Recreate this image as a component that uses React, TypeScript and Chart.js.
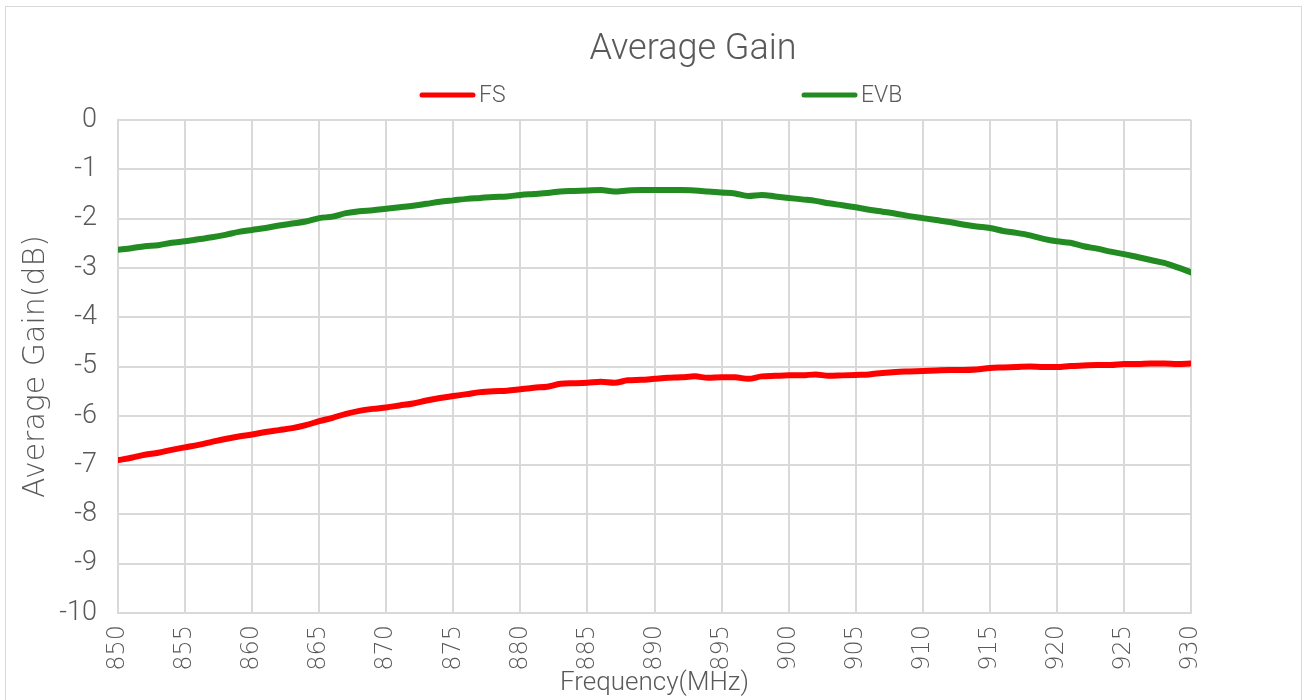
import React, { useEffect, useRef } from "react";
import { Chart, registerables } from "chart.js";

Chart.register(...registerables);

const FREQ_MHZ = [
  850, 851, 852, 853, 854, 855, 856, 857, 858, 859,
  860, 861, 862, 863, 864, 865, 866, 867, 868, 869,
  870, 871, 872, 873, 874, 875, 876, 877, 878, 879,
  880, 881, 882, 883, 884, 885, 886, 887, 888, 889,
  890, 891, 892, 893, 894, 895, 896, 897, 898, 899,
  900, 901, 902, 903, 904, 905, 906, 907, 908, 909,
  910, 911, 912, 913, 914, 915, 916, 917, 918, 919,
  920, 921, 922, 923, 924, 925, 926, 927, 928, 929,
  930,
];

const FS_GAIN = [
  -6.90, -6.85, -6.79, -6.75, -6.69, -6.64, -6.59, -6.53, -6.47, -6.42,
  -6.38, -6.33, -6.29, -6.25, -6.19, -6.11, -6.04, -5.96, -5.90, -5.86,
  -5.83, -5.79, -5.75, -5.69, -5.64, -5.60, -5.56, -5.52, -5.50, -5.49,
  -5.46, -5.43, -5.41, -5.35, -5.34, -5.33, -5.31, -5.33, -5.28, -5.27,
  -5.25, -5.23, -5.22, -5.20, -5.23, -5.22, -5.22, -5.25, -5.20, -5.19,
  -5.18, -5.18, -5.16, -5.19, -5.18, -5.17, -5.16, -5.13, -5.11, -5.10,
  -5.09, -5.08, -5.07, -5.07, -5.06, -5.03, -5.02, -5.01, -5.00, -5.01,
  -5.01, -4.99, -4.98, -4.97, -4.97, -4.95, -4.95, -4.94, -4.94, -4.95,
  -4.94,
];

const EVB_GAIN = [
  -2.63, -2.60, -2.56, -2.54, -2.49, -2.46, -2.42, -2.38, -2.33, -2.27,
  -2.23, -2.19, -2.14, -2.10, -2.06, -1.99, -1.96, -1.89, -1.85, -1.83,
  -1.80, -1.77, -1.74, -1.70, -1.66, -1.63, -1.60, -1.58, -1.56, -1.55,
  -1.52, -1.50, -1.48, -1.45, -1.44, -1.43, -1.42, -1.45, -1.43, -1.42,
  -1.42, -1.42, -1.42, -1.43, -1.45, -1.47, -1.49, -1.54, -1.52, -1.55,
  -1.58, -1.61, -1.64, -1.69, -1.73, -1.77, -1.82, -1.86, -1.90, -1.95,
  -1.99, -2.03, -2.07, -2.12, -2.16, -2.19, -2.25, -2.29, -2.34, -2.41,
  -2.46, -2.49, -2.56, -2.61, -2.67, -2.72, -2.78, -2.84, -2.90, -2.99,
  -3.09,
];

const SERIES_NAMES = ["FS", "EVB"];
const CHART_TITLE = "Average Gain";
const X_TITLE = "Frequency(MHz)";
const Y_TITLE = "Average Gain(dB)";

const TEXT = "#595959";
const GRID = "#d9d9d9";

const legendPlugin = {
  id: "spreadLegend",
  afterDraw(chart: any) {
    const { ctx } = chart;
    const starts = [420, 802];
    const y = 95;
    ctx.save();
    chart.data.datasets.forEach((ds: any, i: number) => {
      const x0 = starts[i];
      ctx.strokeStyle = ds.borderColor;
      ctx.lineWidth = 5;
      ctx.lineCap = "round";
      ctx.beginPath();
      ctx.moveTo(x0 + 2, y);
      ctx.lineTo(x0 + 53, y);
      ctx.stroke();
      ctx.fillStyle = TEXT;
      ctx.font = '300 23px Roboto, sans-serif';
      ctx.textBaseline = "middle";
      ctx.textAlign = "left";
      ctx.fillText(ds.label, x0 + 59, y + 1);
    });
    ctx.restore();
  },
};

export default function App() {
  const ref = useRef<HTMLCanvasElement | null>(null);

  useEffect(() => {
    if (!ref.current) return;
    const toPoints = (vals: number[]) =>
      vals.map((v, i) => ({ x: FREQ_MHZ[i], y: v }));
    const chart = new Chart(ref.current, {
      type: "line",
      data: {
        datasets: [
          {
            label: SERIES_NAMES[0],
            data: toPoints(FS_GAIN),
            borderColor: "#ff0000",
            backgroundColor: "#ff0000",
            borderWidth: 6,
            pointRadius: 0,
            cubicInterpolationMode: "monotone",
            borderCapStyle: "round",
            borderJoinStyle: "round",
          },
          {
            label: SERIES_NAMES[1],
            data: toPoints(EVB_GAIN),
            borderColor: "#228b22",
            backgroundColor: "#228b22",
            borderWidth: 6,
            pointRadius: 0,
            cubicInterpolationMode: "monotone",
            borderCapStyle: "round",
            borderJoinStyle: "round",
          },
        ],
      },
      options: {
        responsive: false,
        animation: false,
        layout: { padding: { left: 0, right: -79, top: 0, bottom: 0 } },
        plugins: {
          legend: { display: false },
          tooltip: { enabled: false },
          title: {
            display: true,
            text: CHART_TITLE,
            color: TEXT,
            font: { family: "Roboto", size: 36, weight: "300" },
            padding: { top: 28, bottom: 48.8 },
          },
        },
        scales: {
          x: {
            type: "linear",
            min: 850,
            max: 930,
            afterFit: (s: any) => {
              s.height = 87;
            },
            ticks: {
              stepSize: 5,
              autoSkip: false,
              maxRotation: 90,
              minRotation: 90,
              padding: 12,
              color: TEXT,
              font: { family: "DejaVu Sans", size: 24, weight: "200" },
            },
            grid: { color: GRID, lineWidth: 2, drawTicks: false },
            border: { color: GRID, width: 2 },
            title: {
              display: true,
              text: X_TITLE,
              color: TEXT,
              font: { family: "Roboto", size: 26, weight: "300" },
              padding: { top: 0, bottom: 1 },
            },
          },
          y: {
            min: -10,
            max: 0,
            afterFit: (s: any) => {
              s.width = 118;
            },
            ticks: {
              stepSize: 1,
              padding: 21,
              color: TEXT,
              font: { family: "Roboto", size: 27, weight: "300" },
            },
            grid: { color: GRID, lineWidth: 2, drawTicks: false },
            border: { color: GRID, width: 2 },
            title: {
              display: true,
              text: Y_TITLE,
              color: TEXT,
              font: { family: "DejaVu Sans", size: 30, weight: "200" },
              padding: { top: 18, bottom: 0 },
            },
          },
          yRightSpace: {
            position: "right",
            display: true,
            min: -10,
            max: 0,
            afterFit: (s: any) => {
              s.width = 195;
            },
            ticks: { display: false },
            grid: { display: false, drawTicks: false },
            border: { display: false },
          },
        },
      },
      plugins: [legendPlugin],
    });
    return () => chart.destroy();
  }, []);

  return (
    <div style={{ position: "absolute", left: 0, top: 0, width: 1307, height: 700, overflow: "hidden", background: "#fff" }}>
      <div
        style={{
          position: "absolute",
          left: 5,
          top: 6,
          width: 1297,
          height: 720,
          border: "1px solid #d9d9d9",
          boxSizing: "border-box",
        }}
      />
      <canvas
        ref={ref}
        width={1307}
        height={700}
        style={{ position: "absolute", left: 0, top: 0, width: 1307, height: 700 }}
      />
    </div>
  );
}
